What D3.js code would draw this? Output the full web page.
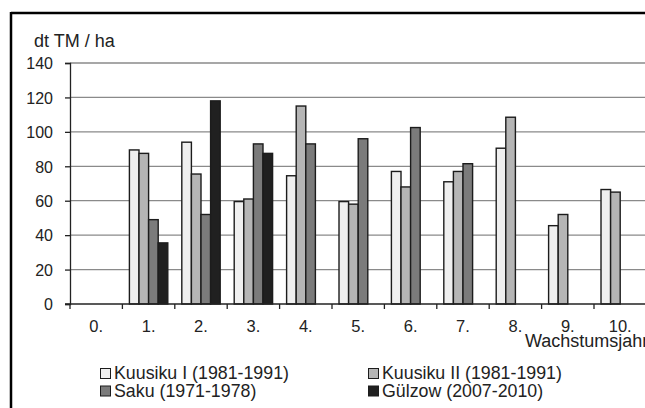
<!DOCTYPE html>
<html><head><meta charset="utf-8">
<script src="https://cdn.jsdelivr.net/npm/d3@7"></script>
<style>body{margin:0;background:#fff}svg{display:block;font-family:"Liberation Sans",Arial,sans-serif}</style>
</head><body>
<svg id="c" width="645" height="408"></svg>
<script>
const categories = ["0.","1.","2.","3.","4.","5.","6.","7.","8.","9.","10."];
const seriesNames = ["Kuusiku I (1981-1991)","Kuusiku II (1981-1991)","Saku (1971-1978)","Gülzow (2007-2010)"];
const kuusikuI  = [null, 89.5, 94, 59.5, 74.5, 59.5, 77, 71, 90.5, 45.5, 66.5];
const kuusikuII = [null, 87.5, 75.5, 61, 115, 58, 68, 77, 108.5, 52, 65];
const saku      = [null, 49, 52, 93, 93, 96, 102.5, 81.5, null, null, null];
const guelzow   = [null, 35.5, 118, 87.5, null, null, null, null, null, null, null];
const yTicks = [0,20,40,60,80,100,120,140];
const colors = ["#efefef","#b5b5b5","#7b7b7b","#202020"];

const allSeries = [kuusikuI, kuusikuII, saku, guelzow];
const svg = d3.select("#c");
const ink = "#222";

// frame
svg.append("line").attr("x1",11).attr("x2",645).attr("y1",13).attr("y2",13).attr("stroke","#000").attr("stroke-width",2.5);
svg.append("line").attr("x1",11).attr("x2",11).attr("y1",12).attr("y2",408).attr("stroke","#000").attr("stroke-width",2.5);

const x = d3.scaleBand().domain(categories).range([70, 646.4]).paddingInner(0).paddingOuter(0);
const xs = d3.scaleBand().domain(d3.range(4)).range([0, x.bandwidth()]).paddingInner(0).paddingOuter(0.73);
const y = d3.scaleLinear().domain([0,140]).range([304, 63]);

// gridlines
svg.append("g").selectAll("line").data(yTicks.filter(d=>d>0)).join("line")
  .attr("x1",70).attr("x2",646).attr("y1",d=>y(d)).attr("y2",d=>y(d))
  .attr("stroke","#8a8a8a").attr("stroke-width",1.3);

// y axis
const yAxis = svg.append("g").attr("transform","translate(70,0)")
  .call(d3.axisLeft(y).tickValues(yTicks).tickSize(5).tickPadding(12).tickFormat(d3.format("d")));
yAxis.select(".domain").attr("stroke",ink).attr("stroke-width",1.3);
yAxis.selectAll(".tick line").attr("stroke",ink).attr("stroke-width",1.3);
yAxis.selectAll("text").attr("font-size",16).attr("fill",ink).attr("font-family","Liberation Sans, Arial, sans-serif").attr("dy","0.36em");

// bars
const rows = [];
allSeries.forEach((arr,si)=>arr.forEach((v,ci)=>{ if(v!=null) rows.push({si,ci,v}); }));
svg.append("g").selectAll("rect").data(rows).join("rect")
  .attr("x",d=>x(categories[d.ci])+xs(d.si))
  .attr("width",xs.bandwidth())
  .attr("y",d=>y(d.v))
  .attr("height",d=>y(0)-y(d.v))
  .attr("fill",d=>colors[d.si])
  .attr("stroke","#1c1c1c").attr("stroke-width",1.4);

// x axis
const xAxisG = svg.append("g").attr("transform","translate(0,304)");
xAxisG.append("line").attr("x1",65).attr("x2",646).attr("y1",0).attr("y2",0).attr("stroke",ink).attr("stroke-width",1.4);
const bounds = categories.map(c=>x(c)).concat([x.range()[1]]);
xAxisG.selectAll("line.t").data(bounds).join("line").attr("class","t")
  .attr("x1",d=>d).attr("x2",d=>d).attr("y1",0).attr("y2",5).attr("stroke",ink).attr("stroke-width",1.3);
xAxisG.selectAll("text").data(categories).join("text")
  .attr("x",d=>x(d)+x.bandwidth()/2).attr("y",27.5)
  .attr("text-anchor","middle").attr("font-size",16.5).attr("fill",ink).text(d=>d);

// titles
svg.append("text").attr("x",34).attr("y",46.5).attr("font-size",18).attr("fill",ink).text("dt TM / ha");
svg.append("text").attr("x",525).attr("y",347).attr("font-size",18).attr("fill",ink).text("Wachstumsjahr");

// legend
const legPos = [[100,379],[368,379],[100,396.5],[368,396.5]];
const leg = svg.append("g").selectAll("g").data(seriesNames).join("g")
  .attr("transform",(d,i)=>`translate(${legPos[i][0]},${legPos[i][1]})`);
leg.append("rect").attr("x",0.5).attr("y",-10.5).attr("width",10).attr("height",10)
  .attr("fill",(d,i)=>colors[i]).attr("stroke","#1c1c1c").attr("stroke-width",1);
leg.append("text").attr("x",14).attr("y",0).attr("font-size",17.8).attr("fill",ink).text(d=>d);
</script>
</body></html>
